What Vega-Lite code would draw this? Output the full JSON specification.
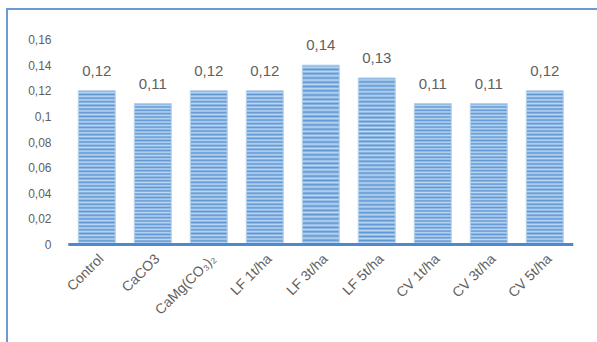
{
  "$schema": "https://vega.github.io/schema/vega-lite/v6.json",
  "width": 595,
  "height": 338,
  "autosize": {"type": "none"},
  "padding": {"left": 7, "top": 9, "right": -5, "bottom": -5},
  "background": "#ffffff",
  "config": {
    "locale": {"number": {"decimal": ",", "thousands": ".", "grouping": [3], "currency": ["", " €"]}},
    "view": {"stroke": "#6a9bd8", "strokeWidth": 2},
    "font": "Liberation Sans"
  },
  "data": {
    "values": [
      {"treatment": "Control", "value": 0.12},
      {"treatment": "CaCO3", "value": 0.11},
      {"treatment": "CaMg(CO₃)₂", "value": 0.12},
      {"treatment": "LF 1t/ha", "value": 0.12},
      {"treatment": "LF 3t/ha", "value": 0.14},
      {"treatment": "LF 5t/ha", "value": 0.13},
      {"treatment": "CV 1t/ha", "value": 0.11},
      {"treatment": "CV 3t/ha", "value": 0.11},
      {"treatment": "CV 5t/ha", "value": 0.12}
    ]
  },
  "encoding": {
    "x": {
      "field": "treatment",
      "type": "nominal",
      "sort": null,
      "scale": {"paddingInner": 0.34, "paddingOuter": 0.9825, "align": 0.648},
      "axis": {
        "orient": "bottom",
        "offset": -102.5,
        "domain": false,
        "ticks": false,
        "labelAngle": -45,
        "labelFontSize": 14,
        "labelColor": "#5f5f5f",
        "labelPadding": 7,
        "labelOverlap": false,
        "title": null
      }
    }
  },
  "layer": [
    {
      "mark": {
        "type": "bar",
        "stroke": "#b4d0ee",
        "strokeWidth": 1,
        "fill": {
          "gradient": "linear",
          "x1": 0, "y1": 0, "x2": 0, "y2": 1,
          "stops": [
            {"offset": 0, "color": "#5a95d5"}, {"offset": 0.0119, "color": "#c0d8f0"},
            {"offset": 0.0238, "color": "#5a95d5"}, {"offset": 0.0357, "color": "#c0d8f0"},
            {"offset": 0.0476, "color": "#5a95d5"}, {"offset": 0.0595, "color": "#c0d8f0"},
            {"offset": 0.0714, "color": "#5a95d5"}, {"offset": 0.0833, "color": "#c0d8f0"},
            {"offset": 0.0952, "color": "#5a95d5"}, {"offset": 0.1071, "color": "#c0d8f0"},
            {"offset": 0.119, "color": "#5a95d5"}, {"offset": 0.131, "color": "#c0d8f0"},
            {"offset": 0.1429, "color": "#5a95d5"}, {"offset": 0.1548, "color": "#c0d8f0"},
            {"offset": 0.1667, "color": "#5a95d5"}, {"offset": 0.1786, "color": "#c0d8f0"},
            {"offset": 0.1905, "color": "#5a95d5"}, {"offset": 0.2024, "color": "#c0d8f0"},
            {"offset": 0.2143, "color": "#5a95d5"}, {"offset": 0.2262, "color": "#c0d8f0"},
            {"offset": 0.2381, "color": "#5a95d5"}, {"offset": 0.25, "color": "#c0d8f0"},
            {"offset": 0.2619, "color": "#5a95d5"}, {"offset": 0.2738, "color": "#c0d8f0"},
            {"offset": 0.2857, "color": "#5a95d5"}, {"offset": 0.2976, "color": "#c0d8f0"},
            {"offset": 0.3095, "color": "#5a95d5"}, {"offset": 0.3214, "color": "#c0d8f0"},
            {"offset": 0.3333, "color": "#5a95d5"}, {"offset": 0.3452, "color": "#c0d8f0"},
            {"offset": 0.3571, "color": "#5a95d5"}, {"offset": 0.369, "color": "#c0d8f0"},
            {"offset": 0.381, "color": "#5a95d5"}, {"offset": 0.3929, "color": "#c0d8f0"},
            {"offset": 0.4048, "color": "#5a95d5"}, {"offset": 0.4167, "color": "#c0d8f0"},
            {"offset": 0.4286, "color": "#5a95d5"}, {"offset": 0.4405, "color": "#c0d8f0"},
            {"offset": 0.4524, "color": "#5a95d5"}, {"offset": 0.4643, "color": "#c0d8f0"},
            {"offset": 0.4762, "color": "#5a95d5"}, {"offset": 0.4881, "color": "#c0d8f0"},
            {"offset": 0.5, "color": "#5a95d5"}, {"offset": 0.5119, "color": "#c0d8f0"},
            {"offset": 0.5238, "color": "#5a95d5"}, {"offset": 0.5357, "color": "#c0d8f0"},
            {"offset": 0.5476, "color": "#5a95d5"}, {"offset": 0.5595, "color": "#c0d8f0"},
            {"offset": 0.5714, "color": "#5a95d5"}, {"offset": 0.5833, "color": "#c0d8f0"},
            {"offset": 0.5952, "color": "#5a95d5"}, {"offset": 0.6071, "color": "#c0d8f0"},
            {"offset": 0.619, "color": "#5a95d5"}, {"offset": 0.631, "color": "#c0d8f0"},
            {"offset": 0.6429, "color": "#5a95d5"}, {"offset": 0.6548, "color": "#c0d8f0"},
            {"offset": 0.6667, "color": "#5a95d5"}, {"offset": 0.6786, "color": "#c0d8f0"},
            {"offset": 0.6905, "color": "#5a95d5"}, {"offset": 0.7024, "color": "#c0d8f0"},
            {"offset": 0.7143, "color": "#5a95d5"}, {"offset": 0.7262, "color": "#c0d8f0"},
            {"offset": 0.7381, "color": "#5a95d5"}, {"offset": 0.75, "color": "#c0d8f0"},
            {"offset": 0.7619, "color": "#5a95d5"}, {"offset": 0.7738, "color": "#c0d8f0"},
            {"offset": 0.7857, "color": "#5a95d5"}, {"offset": 0.7976, "color": "#c0d8f0"},
            {"offset": 0.8095, "color": "#5a95d5"}, {"offset": 0.8214, "color": "#c0d8f0"},
            {"offset": 0.8333, "color": "#5a95d5"}, {"offset": 0.8452, "color": "#c0d8f0"},
            {"offset": 0.8571, "color": "#5a95d5"}, {"offset": 0.869, "color": "#c0d8f0"},
            {"offset": 0.881, "color": "#5a95d5"}, {"offset": 0.8929, "color": "#c0d8f0"},
            {"offset": 0.9048, "color": "#5a95d5"}, {"offset": 0.9167, "color": "#c0d8f0"},
            {"offset": 0.9286, "color": "#5a95d5"}, {"offset": 0.9405, "color": "#c0d8f0"},
            {"offset": 0.9524, "color": "#5a95d5"}, {"offset": 0.9643, "color": "#c0d8f0"},
            {"offset": 0.9762, "color": "#5a95d5"}, {"offset": 0.9881, "color": "#c0d8f0"},
            {"offset": 1, "color": "#5a95d5"}
          ]
        }
      },
      "encoding": {
        "y": {
          "field": "value",
          "type": "quantitative",
          "scale": {"domain": [-0.08002, 0.18384], "nice": false, "zero": false},
          "axis": {
            "values": [0, 0.02, 0.04, 0.06, 0.08, 0.1, 0.12, 0.14, 0.16],
            "format": ".2~f",
            "offset": -63,
            "labelPadding": 19,
            "domain": false,
            "ticks": false,
            "grid": false,
            "title": null,
            "labelFontSize": 12,
            "labelColor": "#5f5f5f"
          }
        },
        "y2": {"datum": 0}
      }
    },
    {
      "mark": {"type": "tick", "orient": "horizontal", "size": 57, "thickness": 3, "color": "#4f88cc", "opacity": 1},
      "encoding": {"y": {"datum": 0, "type": "quantitative"}}
    },
    {
      "mark": {"type": "text", "dy": -15, "baseline": "alphabetic", "fontSize": 15, "color": "#5f5f5f"},
      "encoding": {
        "y": {"field": "value", "type": "quantitative"},
        "text": {"field": "value", "type": "quantitative", "format": ".2f"}
      }
    }
  ]
}
